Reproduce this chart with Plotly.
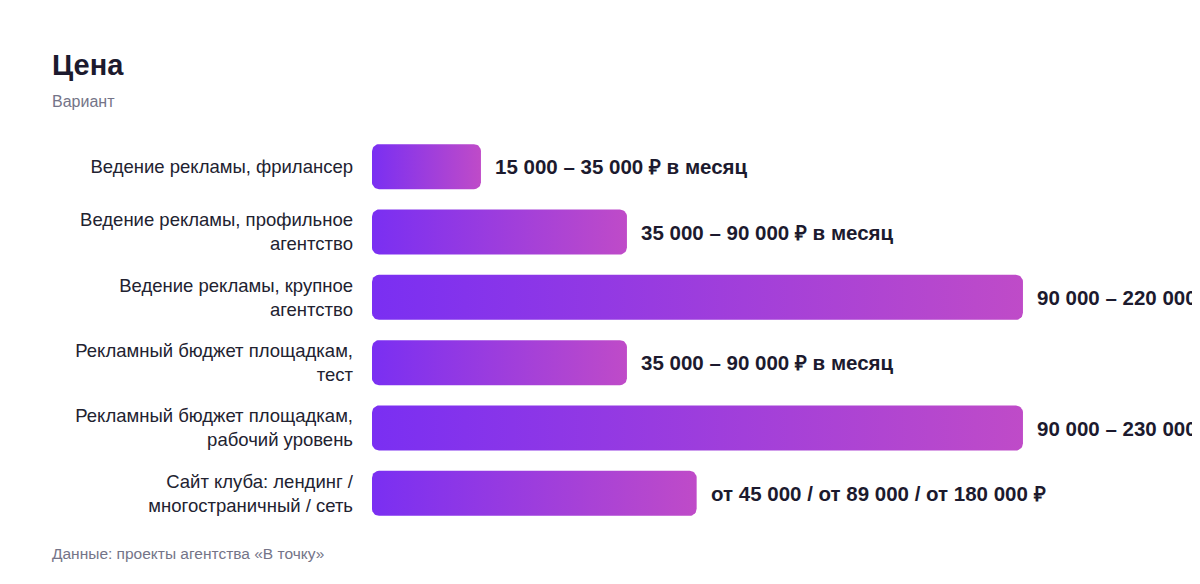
import numpy as np
import plotly.graph_objects as go

# ---- data ----
categories = [
    "Ведение рекламы, фрилансер",
    "Ведение рекламы, профильное<br>агентство",
    "Ведение рекламы, крупное<br>агентство",
    "Рекламный бюджет площадкам,<br>тест",
    "Рекламный бюджет площадкам,<br>рабочий уровень",
    "Сайт клуба: лендинг /<br>многостраничный / сеть",
]
bar_values = [1.0, 2.34, 5.975, 2.34, 5.975, 2.98]
value_labels = [
    "15 000 – 35 000 ₽ в месяц",
    "35 000 – 90 000 ₽ в месяц",
    "90 000 – 220 000 ₽ в месяц",
    "35 000 – 90 000 ₽ в месяц",
    "90 000 – 230 000 ₽ в месяц",
    "от 45 000 / от 89 000 / от 180 000 ₽",
]
title_text = "Цена"
subtitle_text = "Вариант"
footer_text = "Данные: проекты агентства «В точку»"

# ---- layout geometry (page has an 8px body margin) ----
OFF = 8
W, H = 1200 - OFF, 584 - OFF
ML, MR, MT, MB = 372 - OFF, 0, 134 - OFF, 58
plot_w = W - ML - MR
plot_h = H - MT - MB
x_max = 7.6
n = len(categories)
px_x = plot_w / x_max
px_y = plot_h / n
half_h = 22.5 / px_y
radius = 7.0

DARK = "#1c1a2e"
GREY = "#747488"
FONT = "Liberation Sans, Arial, sans-serif"


def rounded_bar(v, yc):
    rx = radius / px_x
    ry = radius / px_y
    y0, y1 = yc - half_h, yc + half_h
    xs, ys = [], []
    corners = [
        (0 + rx, y0 + ry, np.pi, 1.5 * np.pi),
        (v - rx, y0 + ry, 1.5 * np.pi, 2 * np.pi),
        (v - rx, y1 - ry, 0, 0.5 * np.pi),
        (0 + rx, y1 - ry, 0.5 * np.pi, np.pi),
    ]
    for cx, cy, a0, a1 in corners:
        a = np.linspace(a0, a1, 10)
        xs.extend(cx + rx * np.cos(a))
        ys.extend(cy + ry * np.sin(a))
    xs.append(xs[0])
    ys.append(ys[0])
    return xs, ys


fig = go.Figure()
for i, v in enumerate(bar_values):
    xs, ys = rounded_bar(v, i)
    fig.add_trace(go.Scatter(
        x=xs, y=ys, mode="lines", fill="toself",
        line=dict(width=0, color="rgba(0,0,0,0)"),
        fillgradient=dict(type="horizontal",
                          colorscale=[[0, "#7A2FF2"], [1, "#BF4BC8"]]),
        hoverinfo="skip", showlegend=False,
    ))

annotations = []
for i, (v, lab) in enumerate(zip(bar_values, value_labels)):
    annotations.append(dict(
        x=v, y=i, xref="x", yref="y", text="<b>" + lab + "</b>",
        showarrow=False, xanchor="left", yanchor="middle", xshift=12,
        font=dict(family=FONT, size=20.5, color=DARK),
    ))

annotations.append(dict(
    x=(52 - 372) / plot_w, y=(H - MB - (102 - OFF)) / plot_h, xref="paper", yref="paper",
    text=subtitle_text, showarrow=False, xanchor="left", yanchor="middle", xshift=-2,
    font=dict(family=FONT, size=16, color=GREY),
))
annotations.append(dict(
    x=(52 - 372) / plot_w, y=(H - MB - (553 - OFF)) / plot_h, xref="paper", yref="paper",
    text=footer_text, showarrow=False, xanchor="left", yanchor="middle", xshift=-2,
    font=dict(family=FONT, size=15.5, color=GREY),
))

fig.update_layout(
    width=W, height=H,
    margin=dict(l=ML, r=MR, t=MT, b=MB, pad=0),
    paper_bgcolor="white", plot_bgcolor="white",
    title=dict(text="<b>" + title_text + "</b>", x=(52 - OFF) / W, xanchor="left",
               y=1 - (65 - OFF) / H, yanchor="middle", xref="container", yref="container",
               font=dict(family=FONT, size=29, color=DARK)),
    xaxis=dict(visible=False, range=[0, x_max], fixedrange=True),
    yaxis=dict(range=[n - 0.5, -0.5], tickvals=list(range(n)), ticktext=categories,
               showgrid=False, zeroline=False, showline=False, ticks="",
               ticklabelstandoff=18,
               tickfont=dict(family=FONT, size=18.5, color="#222230"),
               fixedrange=True),
    annotations=annotations,
    showlegend=False,
)

fig.write_html("out.html")
